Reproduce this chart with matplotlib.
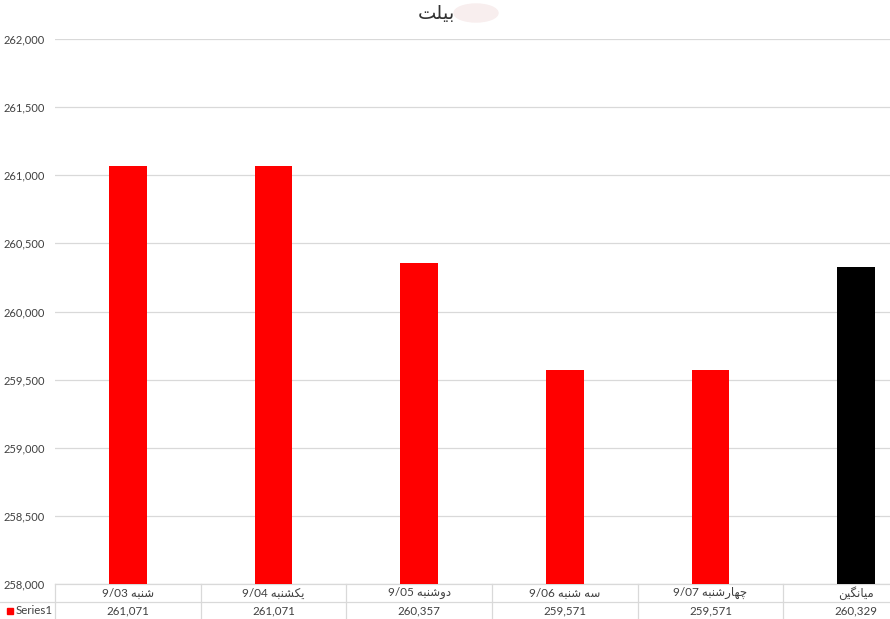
import matplotlib
matplotlib.use("Agg")
import matplotlib.pyplot as plt
from matplotlib.patches import Ellipse, Rectangle

# chart data
title_text = "بیلت"
categories = ["شنبه 9/03", "یکشنبه 9/04", "دوشنبه 9/05",
              "سه شنبه 9/06", "چهارشنبه 9/07", "میانگین"]
values = [261071, 261071, 260357, 259571, 259571, 260329]
series_name = "Series1"
bar_colors = ["#ff0000"] * 5 + ["#000000"]
y_ticks = [258000, 258500, 259000, 259500, 260000, 260500, 261000, 261500, 262000]

plt.rcParams['font.family'] = ['Lato', 'DejaVu Sans']

# matplotlib has no Arabic shaping, so pick the contextual forms by hand
# (isolated, final, initial, medial); None = letter does not join forward
FORMS = {
    'ا': ('\uFE8D', '\uFE8E', None, None),
    'ب': ('\uFE8F', '\uFE90', '\uFE91', '\uFE92'),
    'ت': ('\uFE95', '\uFE96', '\uFE97', '\uFE98'),
    'د': ('\uFEA9', '\uFEAA', None, None),
    'ر': ('\uFEAD', '\uFEAE', None, None),
    'س': ('\uFEB1', '\uFEB2', '\uFEB3', '\uFEB4'),
    'ش': ('\uFEB5', '\uFEB6', '\uFEB7', '\uFEB8'),
    'ل': ('\uFEDD', '\uFEDE', '\uFEDF', '\uFEE0'),
    'م': ('\uFEE1', '\uFEE2', '\uFEE3', '\uFEE4'),
    'ن': ('\uFEE5', '\uFEE6', '\uFEE7', '\uFEE8'),
    'ه': ('\uFEE9', '\uFEEA', '\uFEEB', '\uFEEC'),
    'و': ('\uFEED', '\uFEEE', None, None),
    'ی': ('\uFBFC', '\uFBFD', '\uFBFE', '\uFBFF'),
    'ک': ('\uFB8E', '\uFB8F', '\uFB90', '\uFB91'),
    'گ': ('\uFB92', '\uFB93', '\uFB94', '\uFB95'),
    'چ': ('\uFB7A', '\uFB7B', '\uFB7C', '\uFB7D'),
}


def shape_word(w):
    if not any(c in FORMS for c in w):
        return w
    out = []
    for i, c in enumerate(w):
        f = FORMS.get(c)
        if f is None:
            out.append(c)
            continue
        prev = w[i - 1] if i > 0 else None
        nxt = w[i + 1] if i + 1 < len(w) else None
        jp = prev in FORMS and FORMS[prev][2] is not None
        jn = nxt in FORMS and f[2] is not None
        if jp and jn:
            out.append(f[3])
        elif jp:
            out.append(f[1])
        elif jn:
            out.append(f[2])
        else:
            out.append(f[0])
    return ''.join(reversed(out))


def rtl(s):
    # right-to-left line: reverse word order, shape each Arabic word
    return ' '.join(shape_word(w) for w in reversed(s.split(' ')))


W, H = 890, 619
fig = plt.figure(figsize=(W / 100, H / 100), dpi=100)
# the source chart was cropped on the right, so the plot area runs past the edge
left, right, top, bottom = 55, 929, 39, 584
ax = fig.add_axes([left / W, (H - bottom) / H, (right - left) / W, (bottom - top) / H])

x = list(range(len(values)))
ax.bar(x, values, width=0.26, color=bar_colors, zorder=3)
ax.set_xlim(-0.5, len(values) - 0.5)
ax.set_ylim(y_ticks[0], y_ticks[-1])
ax.set_yticks(y_ticks)
ax.set_yticklabels([f"{v:,}" for v in y_ticks], fontsize=8, color="#404040")
ax.tick_params(axis='y', length=0, pad=7.5)
ax.set_xticks([])
ax.grid(axis='y', color="#d9d9d9", linewidth=0.9, zorder=0)
for s in ax.spines.values():
    s.set_visible(False)

# data table under the plot
row_h = 18 / (bottom - top)
line_kw = dict(color="#d9d9d9", linewidth=0.9, clip_on=False,
               transform=ax.get_xaxis_transform())
ax.plot([-0.5, len(values) - 0.5], [0, 0], **line_kw)
ax.plot([-0.5 - 55 / 146, len(values) - 0.5], [-row_h, -row_h], **line_kw)
for i in range(len(values) + 1):
    ax.plot([i - 0.5, i - 0.5], [0, -2.1 * row_h], **line_kw)

tr = ax.get_xaxis_transform()
for i, (c, v) in enumerate(zip(categories, values)):
    ax.text(i, -0.5 * row_h, rtl(c), transform=tr, ha='center', va='center',
            fontsize=8.5, color="#404040")
    ax.text(i, -1.5 * row_h, f"{v:,}", transform=tr, ha='center', va='center',
            fontsize=8.3, color="#404040")

# legend key inside the table
fig.patches.append(Rectangle((7 / W, (H - 614) / H), 6 / W, 6 / H,
                             transform=fig.transFigure, color="#ff0000"))
fig.text(16 / W, (H - 611) / H, series_name, fontsize=8.3, color="#404040",
         va='center', ha='left')

# title, with the faint smudge beside it
fig.text(436 / W, (H - 13) / H, rtl(title_text), fontsize=14, color="#333333",
         ha='center', va='center')
fig.patches.append(Ellipse((476 / W, (H - 13) / H), 44 / W, 18 / H,
                           transform=fig.transFigure, color="#f8eeee"))

fig.savefig("out.png", dpi=100)
